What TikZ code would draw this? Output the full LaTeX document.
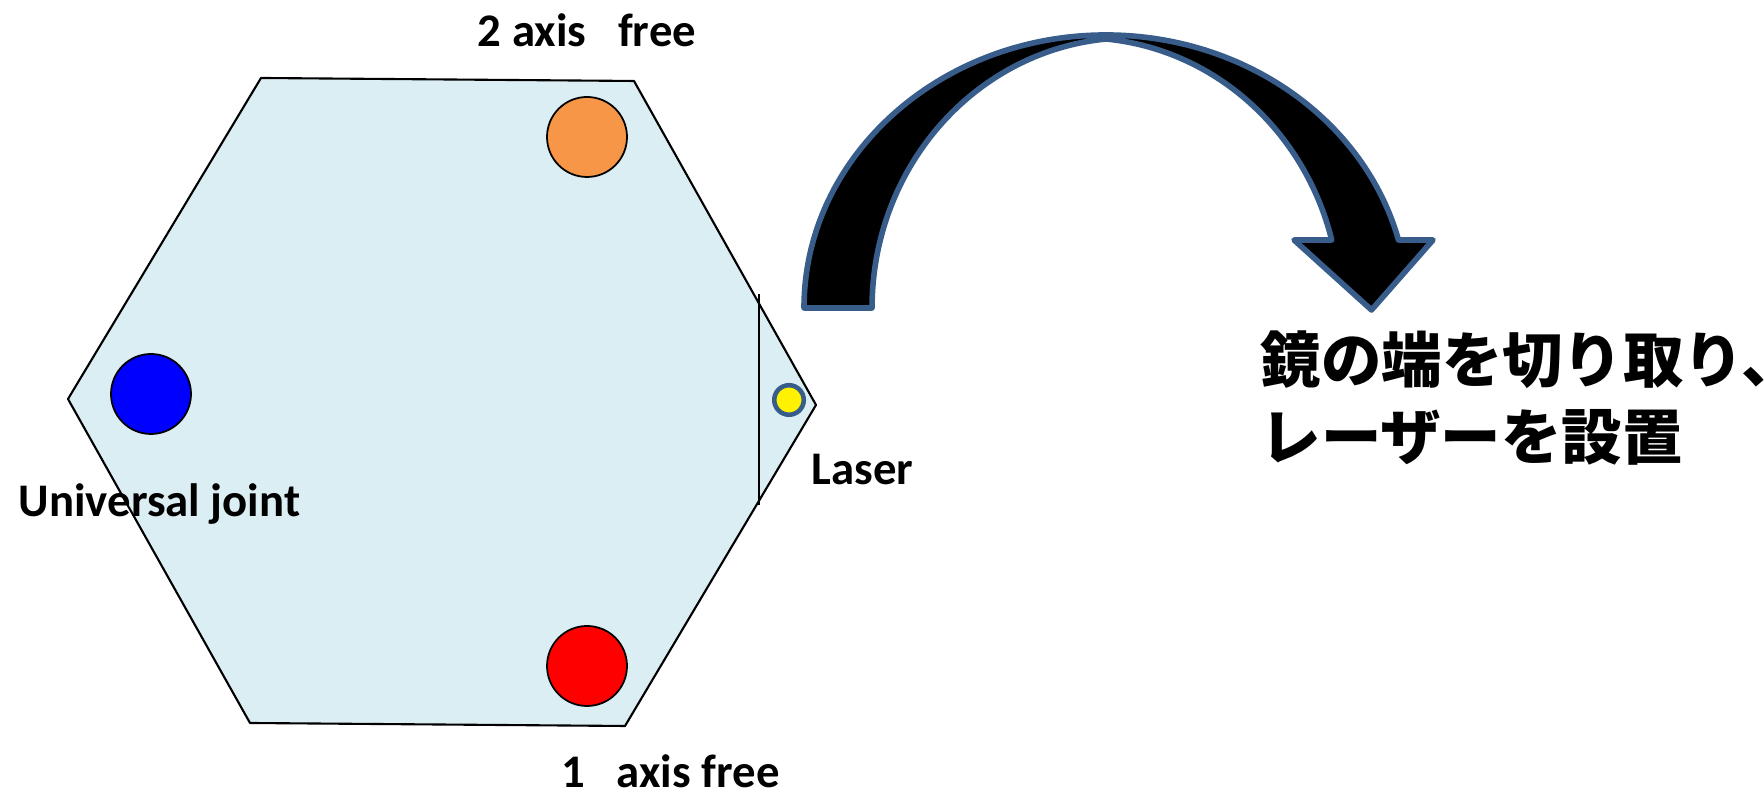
\documentclass[tikz,border=0pt]{standalone}
\usepackage{fontspec}
\setmainfont{Carlito}
\newfontfamily\cjk{Noto Sans CJK JP}
\usepackage{tikz}
\usetikzlibrary{positioning}
\usepackage{xcolor}
\definecolor{mirror}{HTML}{DBEEF4}
\definecolor{edge}{HTML}{385D8A}
\definecolor{orng}{HTML}{F79646}

\begin{document}
\begin{tikzpicture}[
  pin/.style={circle,draw,line width=0.5pt,minimum size=8mm,inner sep=0pt},
  lbl/.style={font=\fontsize{13.3}{16}\selectfont\bfseries,inner sep=0pt}]
\useasboundingbox (0,0) rectangle (17.64,7.92);
% mirror plate
\draw[line width=0.6pt,fill=mirror,line join=round] (2.61,7.14) -- (6.34,7.11) -- (8.16,3.87) -- (6.25,0.66) -- (2.50,0.69) -- (0.68,3.93) -- cycle;
\coordinate (cuttop) at (7.59,4.98);
\coordinate (cutbot) at (7.59,2.87);
\draw[line width=0.6pt] (cuttop) -- (cutbot);
% supports
\node[pin,fill=orng] (free2) at (5.87,6.55) {};
\node[pin,fill=blue] (ujoint) at (1.51,3.98) {};
\node[pin,fill=red] (free1) at (5.87,1.26) {};
\node[circle,draw=edge,line width=1.3pt,fill=yellow,minimum size=2.95mm,inner sep=0pt] (laser) at (7.89,3.92) {};
\node[lbl,anchor=base] (t2) at (5.87,7.45) {2 axis\ \ \ free};
\node[lbl,anchor=base] (t1) at (6.705,0.04) {1\ \ \ axis free};
\node[lbl,anchor=base west] (tl) at (8.11,3.07) {Laser};
\node[lbl,anchor=base] (tu) at (1.595,2.75) {Universal joint};
% curved arrow
\draw[edge,fill=black,line width=1.6pt,line join=round] (8.04,4.84) arc[start angle=180,end angle=14.42,x radius=3.02,y radius=2.73] -- (14.33,5.52) -- (13.715,4.82) -- (12.94,5.52) -- (13.317,5.52) arc[start angle=14.58,end angle=84.66,x radius=2.58,y radius=2.702] arc[start angle=95.34,end angle=180,x radius=2.58,y radius=2.702] -- cycle;
\node[anchor=west,inner sep=0pt,align=left,font=\cjk\fontsize{17.2}{22}\selectfont\bfseries] (note) at (12.60,3.94) {鏡の端を切り取り、\\レーザーを設置};
\end{tikzpicture}
\end{document}
